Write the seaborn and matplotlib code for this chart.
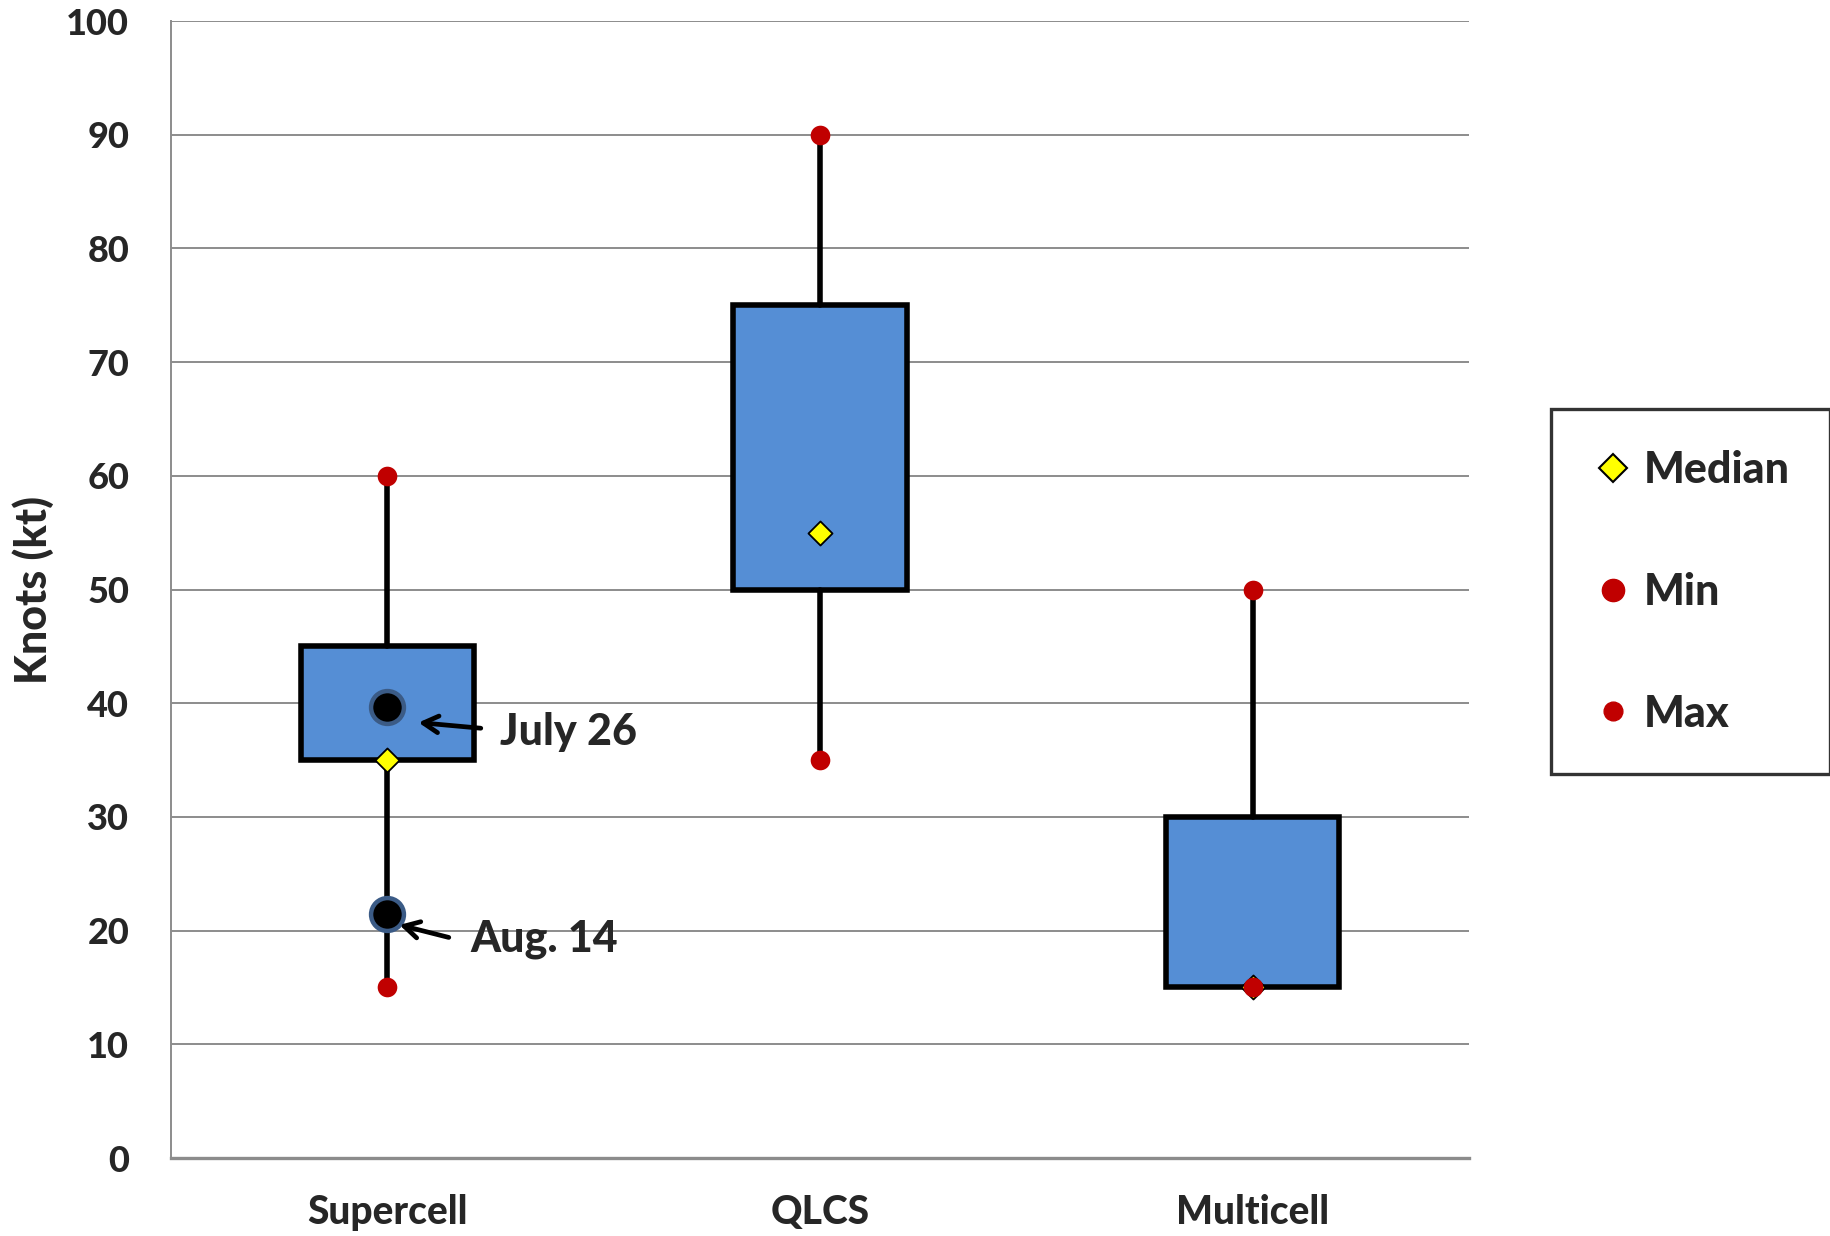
import matplotlib
matplotlib.use("Agg")
import matplotlib.pyplot as plt
from matplotlib.lines import Line2D
import seaborn as sns
import pandas as pd

# Storm-mode wind speed summary (knots)
categories = ["Supercell", "QLCS", "Multicell"]
q1_values = [35, 50, 15]
q3_values = [45, 75, 30]
median_values = [35, 55, 15]
min_values = [15, 35, 15]
max_values = [60, 90, 50]

# Individual events highlighted on the Supercell column
event_labels = ["July 26", "Aug. 14"]
event_category = ["Supercell", "Supercell"]
event_values = [39.7, 21.5]

y_ticks = [0, 10, 20, 30, 40, 50, 60, 70, 80, 90, 100]

sns.set_theme(style="white")
plt.rcParams["font.family"] = ["Lato", "DejaVu Sans"]
WEIGHT = "black"
plt.rcParams["font.weight"] = WEIGHT

BOX_BLUE = "#558ED5"
RED = "#C00000"
YELLOW = "#FFFF00"
GRID = "#8C8C8C"

fig = plt.figure(figsize=(18.31, 12.36), dpi=100)
ax = fig.add_axes([0.0934, 0.0631, 0.7089, 0.9199])

# Boxes and whiskers from the summary statistics
stats = [
    dict(label=c, q1=a, q3=b, med=m, whislo=lo, whishi=hi, fliers=[])
    for c, a, b, m, lo, hi in zip(categories, q1_values, q3_values,
                                  median_values, min_values, max_values)
]
ax.bxp(
    stats,
    positions=list(range(len(categories))),
    widths=0.40,
    patch_artist=True,
    showcaps=False,
    showfliers=False,
    boxprops=dict(facecolor=BOX_BLUE, edgecolor="black", linewidth=4.0),
    whiskerprops=dict(color="black", linewidth=4.0),
    medianprops=dict(linewidth=0),
    zorder=3,
)

summary = pd.DataFrame({
    "category": categories,
    "median": median_values,
    "min": min_values,
    "max": max_values,
})
pos = {c: i for i, c in enumerate(categories)}
summary["x"] = summary["category"].map(pos)

# Median diamonds, then min/max dots on top
sns.scatterplot(data=summary, x="x", y="median", marker="D", s=150,
                color=YELLOW, edgecolor="black", linewidth=1.3, ax=ax,
                zorder=5, legend=False)
sns.scatterplot(data=summary, x="x", y="max", marker="o", s=200,
                color=RED, edgecolor=RED, linewidth=0, ax=ax,
                zorder=6, legend=False)
sns.scatterplot(data=summary, x="x", y="min", marker="o", s=200,
                color=RED, edgecolor=RED, linewidth=0, ax=ax,
                zorder=6, legend=False)

events = pd.DataFrame({"label": event_labels, "category": event_category,
                       "value": event_values})
events["x"] = events["category"].map(pos)
sns.scatterplot(data=events, x="x", y="value", marker="o", s=560,
                color="black", edgecolor="#3B5B86", linewidth=3.2, ax=ax,
                zorder=7, legend=False)

# Event annotations
ann_text = {"July 26": (0.261, 37.5), "Aug. 14": (0.192, 19.3)}
ann_tail = {"July 26": (0.216, 37.8), "Aug. 14": (0.142, 19.4)}
ann_tip = {"July 26": (0.072, 38.3), "Aug. 14": (0.028, 20.5)}
for _, row in events.iterrows():
    lab = row["label"]
    ax.annotate("", xy=ann_tip[lab], xytext=ann_tail[lab],
                arrowprops=dict(arrowstyle="->,head_length=0.9,head_width=0.5",
                                color="black", lw=3.4, shrinkA=0, shrinkB=0),
                zorder=8)
    ax.text(ann_text[lab][0], ann_text[lab][1], lab, fontsize=31,
            fontweight=WEIGHT, ha="left", va="center", zorder=8)

# Axes styling
ax.set_xlim(-0.5, len(categories) - 0.5)
ax.set_ylim(0, 100)
ax.set_yticks(y_ticks)
ax.set_yticklabels([str(t) for t in y_ticks], fontsize=26, fontweight=WEIGHT)
ax.set_xticks(range(len(categories)))
ax.set_xticklabels(categories, fontsize=28, fontweight=WEIGHT)
ax.tick_params(axis="y", length=0, pad=30)
ax.tick_params(axis="x", length=0, pad=26)
ax.yaxis.grid(True, color=GRID, linewidth=1.4, zorder=0)
ax.set_axisbelow(True)
for side in ["top", "right"]:
    ax.spines[side].set_visible(False)
ax.spines["left"].set_color(GRID)
ax.spines["left"].set_linewidth(1.4)
ax.spines["bottom"].set_color(GRID)
ax.spines["bottom"].set_linewidth(2.4)
ax.set_xlabel("")
ax.set_ylabel("Knots (kt)", fontsize=31, fontweight=WEIGHT)
ax.yaxis.set_label_coords(-0.090, 0.5)

# Legend
handles = [
    Line2D([], [], linestyle="none", marker="D", markersize=14,
           markerfacecolor=YELLOW, markeredgecolor="black", markeredgewidth=1.5),
    Line2D([], [], linestyle="none", marker="o", markersize=16,
           markerfacecolor=RED, markeredgecolor=RED),
    Line2D([], [], linestyle="none", marker="o", markersize=13.5,
           markerfacecolor=RED, markeredgecolor=RED),
]
leg = fig.legend(handles, ["Median", "Min", "Max"], loc="upper left",
                 bbox_to_anchor=(1551 / 1831, 1 - 409 / 1236),
                 prop=dict(size=31, weight=WEIGHT),
                 frameon=True, fancybox=False, labelspacing=1.9,
                 borderpad=0.95, handlelength=1.0, handletextpad=0.2,
                 borderaxespad=0)
leg.get_frame().set_edgecolor("black")
leg.get_frame().set_linewidth(2.4)

fig.savefig("out.png", dpi=100, facecolor="white")
